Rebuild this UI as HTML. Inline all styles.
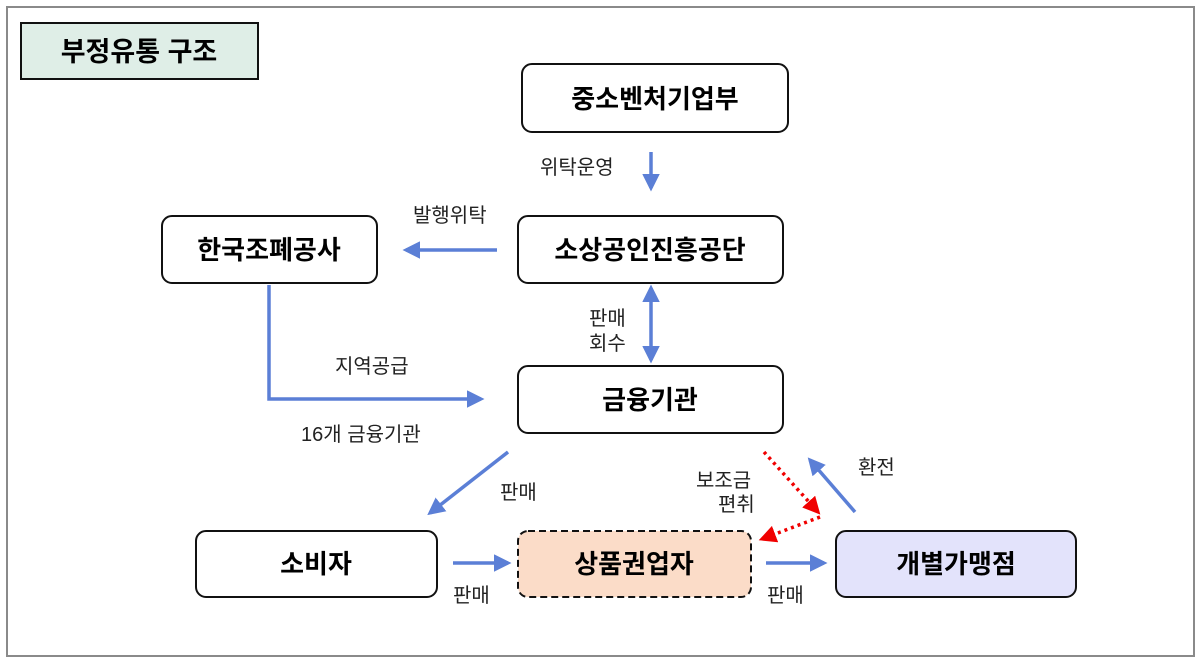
<!DOCTYPE html>
<html><head><meta charset="utf-8"><style>
html,body{margin:0;padding:0;background:#fff}
svg{display:block}
text{font-family:"Liberation Sans","Noto Sans CJK KR",sans-serif}
.b{font-size:26px;font-weight:bold;fill:#000}
.l{font-size:20px;fill:#222}
</style></head><body>
<svg width="1200" height="662" viewBox="0 0 1200 662" xmlns="http://www.w3.org/2000/svg">
<defs>
<marker id="ab" viewBox="0 0 10 10" refX="8" refY="5" markerWidth="5" markerHeight="5" orient="auto-start-reverse"><path d="M0,0L10,5L0,10z" fill="#5b7fd6"/></marker>
<marker id="ar" viewBox="0 0 10 10" refX="8" refY="5" markerWidth="5" markerHeight="5" orient="auto"><path d="M0,0L10,5L0,10z" fill="#f00000"/></marker>
</defs>
<rect x="7" y="7" width="1187" height="649" fill="#fff" stroke="#8a8a8a" stroke-width="2"/>
<rect x="21" y="23" width="237" height="56" fill="#dfeee7" stroke="#111" stroke-width="2"/>
<text x="139" y="61" class="b" text-anchor="middle" style="font-size:27px">부정유통 구조</text>

<g fill="#fff" stroke="#111" stroke-width="2">
<rect x="522" y="64" width="266" height="68" rx="10"/>
<rect x="162" y="216" width="215" height="67" rx="10"/>
<rect x="518" y="216" width="265" height="67" rx="10"/>
<rect x="518" y="366" width="265" height="67" rx="10"/>
<rect x="196" y="531" width="241" height="66" rx="10"/>
<rect x="518" y="531" width="233" height="66" rx="10" fill="#fbdcc8" stroke-dasharray="7,4"/>
<rect x="836" y="531" width="240" height="66" rx="10" fill="#e3e3fb"/>
</g>
<g text-anchor="middle">
<text x="655" y="108" class="b">중소벤처기업부</text>
<text x="269" y="259" class="b">한국조폐공사</text>
<text x="650" y="259" class="b">소상공인진흥공단</text>
<text x="650" y="409" class="b">금융기관</text>
<text x="316" y="573" class="b">소비자</text>
<text x="634" y="573" class="b">상품권업자</text>
<text x="956" y="573" class="b">개별가맹점</text>
</g>

<g stroke="#5b7fd6" stroke-width="3.5" fill="none">
<line x1="651" y1="152" x2="651" y2="188" marker-end="url(#ab)"/>
<line x1="497" y1="250" x2="406" y2="250" marker-end="url(#ab)"/>
<line x1="651" y1="288" x2="651" y2="360" marker-end="url(#ab)" marker-start="url(#ab)"/>
<polyline points="269,285 269,399 481,399" marker-end="url(#ab)"/>
<line x1="508" y1="452" x2="430" y2="513" marker-end="url(#ab)"/>
<line x1="453" y1="563" x2="508" y2="563" marker-end="url(#ab)"/>
<line x1="766" y1="563" x2="824" y2="563" marker-end="url(#ab)"/>
<line x1="855" y1="512" x2="810" y2="460" marker-end="url(#ab)"/>
</g>
<g stroke="#f00000" stroke-width="3.5" fill="none" stroke-dasharray="3,4">
<line x1="764" y1="452" x2="818" y2="512" marker-end="url(#ar)"/>
<line x1="820" y1="517" x2="762" y2="539" marker-end="url(#ar)"/>
</g>

<g class="l">
<text x="540" y="174">위탁운영</text>
<text x="413" y="222">발행위탁</text>
<text x="589" y="325">판매</text>
<text x="589" y="350">회수</text>
<text x="335" y="373">지역공급</text>
<text x="301" y="441">16개 금융기관</text>
<text x="500" y="499">판매</text>
<text x="696" y="487">보조금</text>
<text x="718" y="511">편취</text>
<text x="858" y="474">환전</text>
<text x="453" y="602">판매</text>
<text x="767" y="602">판매</text>
</g>
</svg>
</body></html>
